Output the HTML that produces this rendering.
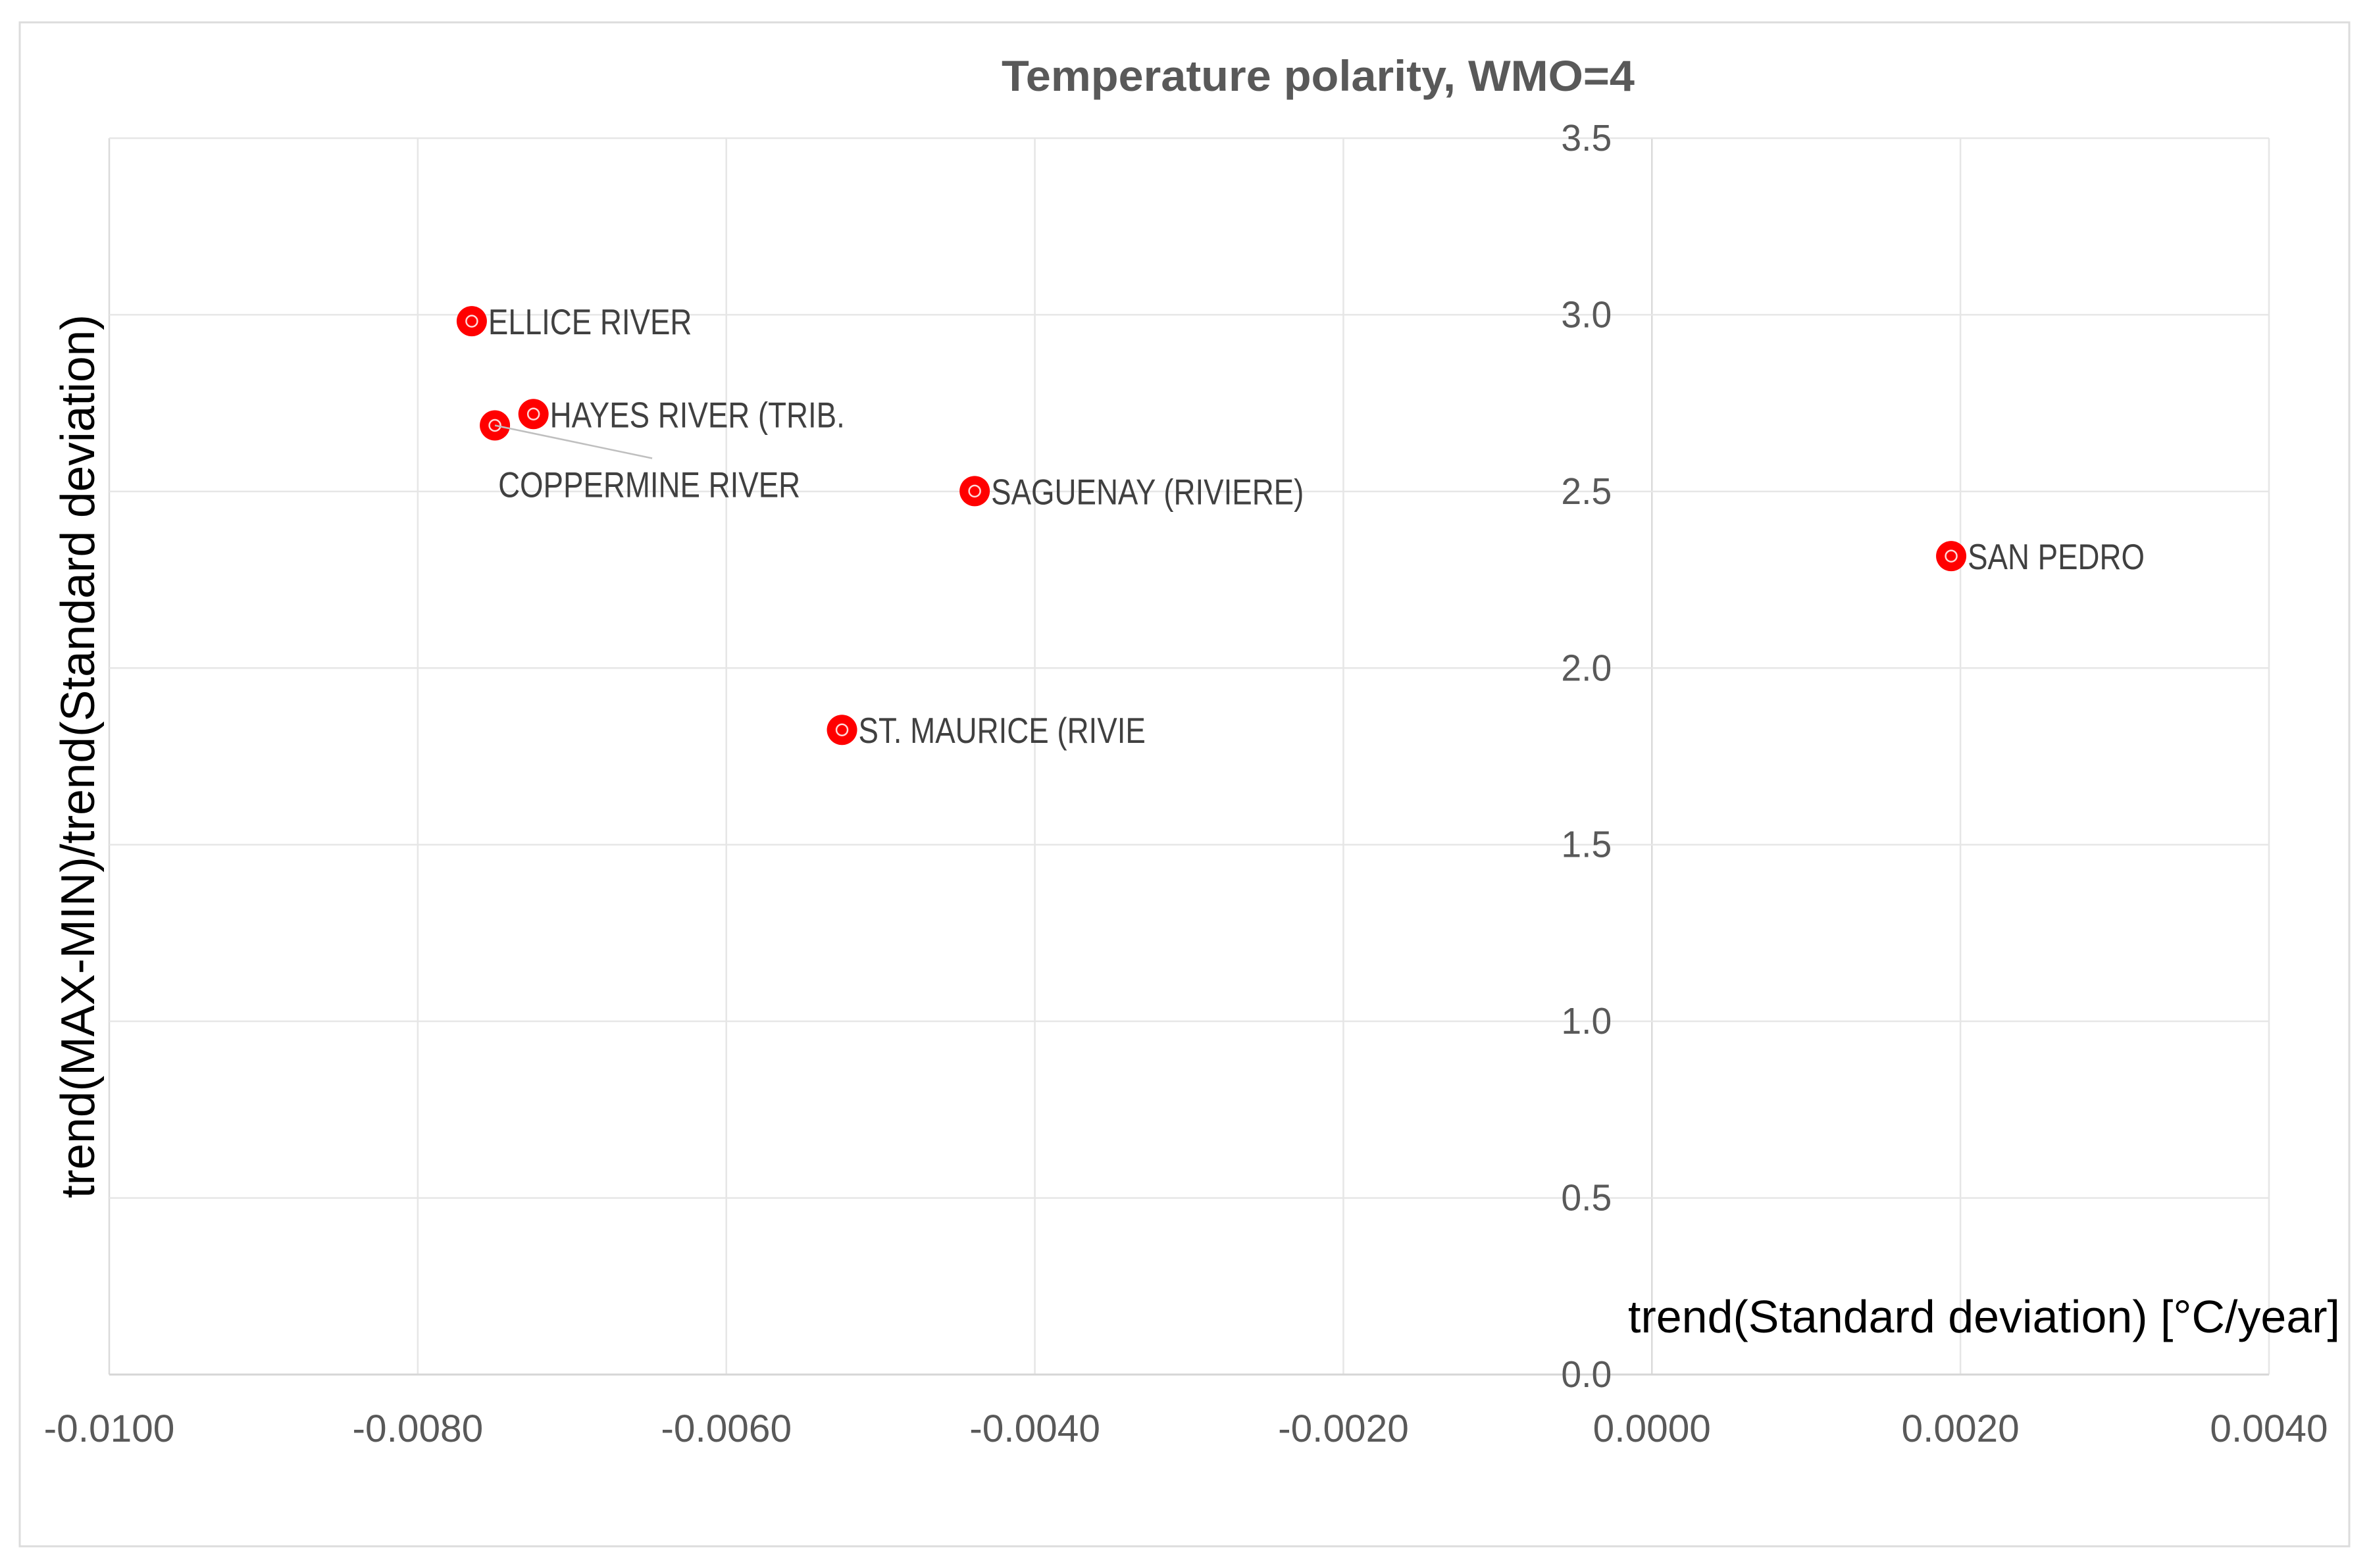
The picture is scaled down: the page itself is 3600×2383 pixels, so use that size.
<!DOCTYPE html>
<html lang="en">
<head>
<meta charset="utf-8">
<title>Temperature polarity, WMO=4</title>
<style>
html,body{margin:0;padding:0;background:#fff;}
svg{display:block;}
text{font-family:"Liberation Sans",sans-serif;}
</style>
</head>
<body>
<svg id="chart" xmlns="http://www.w3.org/2000/svg" width="3600" height="2383" viewBox="0 0 3600 2383">
  <rect x="0" y="0" width="3600" height="2383" fill="#ffffff"/>
  <rect x="30" y="34" width="3540" height="2316" fill="#ffffff" stroke="#dcdcdc" stroke-width="3"/>
  <g id="grid"></g>
  <g id="ticks"></g>
  <g id="marks"></g>
  <text x="1522" y="138" font-size="66" font-weight="bold" fill="#595959" textLength="962" lengthAdjust="spacingAndGlyphs">Temperature polarity, WMO=4</text>
  <text x="2474" y="2025" font-size="70" fill="#000000" textLength="1082" lengthAdjust="spacingAndGlyphs">trend(Standard deviation) [°C/year]</text>
  <text transform="translate(143,1821) rotate(-90)" font-size="72" fill="#000000" textLength="1343" lengthAdjust="spacingAndGlyphs">trend(MAX-MIN)/trend(Standard deviation)</text>
</svg>
<script>
const xTickValues = [-0.01, -0.008, -0.006, -0.004, -0.002, 0, 0.002, 0.004];
const xTickLabels = ["-0.0100", "-0.0080", "-0.0060", "-0.0040", "-0.0020", "0.0000", "0.0020", "0.0040"];
const yTickValues = [0, 0.5, 1, 1.5, 2, 2.5, 3, 3.5];
const yTickLabels = ["0.0", "0.5", "1.0", "1.5", "2.0", "2.5", "3.0", "3.5"];
const stationNames = ["ELLICE RIVER", "HAYES RIVER (TRIB.", "COPPERMINE RIVER", "SAGUENAY (RIVIERE)", "ST. MAURICE (RIVIE", "SAN PEDRO"];
const trendStd = [-0.00765, -0.00725, -0.0075, -0.00439, -0.00525, 0.00194];
const polarity = [2.982, 2.719, 2.687, 2.501, 1.825, 2.317];
const leaderStations = ["COPPERMINE RIVER"];

const NS = "http://www.w3.org/2000/svg";
const plot = { left: 166, right: 3448, top: 210, bottom: 2089 };
const xMin = -0.01, xMax = 0.004, yMin = 0, yMax = 3.5;
function xScale(v) { return plot.left + (v - xMin) / (xMax - xMin) * (plot.right - plot.left); }
function yScale(v) { return plot.bottom - (v - yMin) / (yMax - yMin) * (plot.bottom - plot.top); }
function make(tag, parent) {
  const el = document.createElementNS(NS, tag);
  parent.appendChild(el);
  return el;
}
function condense(el, factor) {
  const w = el.getComputedTextLength();
  el.setAttribute("textLength", (w * factor).toFixed(1));
  el.setAttribute("lengthAdjust", "spacingAndGlyphs");
}

const grid = document.getElementById("grid");
const ticks = document.getElementById("ticks");
const marks = document.getElementById("marks");

xTickValues.forEach(function (v, i) {
  const line = make("line", grid);
  
  
  line.setAttribute("x1", xScale(v));
  line.setAttribute("x2", xScale(v));
  line.setAttribute("y1", plot.top);
  line.setAttribute("y2", plot.bottom);
  line.setAttribute("stroke", v === 0 || i === 0 ? "#dadada" : "#e6e6e6");
  line.setAttribute("stroke-width", 2.5);

  const t = make("text", ticks);
  
  
  t.setAttribute("x", xScale(v));
  t.setAttribute("y", 2191);
  t.setAttribute("font-size", 58);
  t.setAttribute("fill", "#595959");
  t.setAttribute("text-anchor", "middle");
  t.textContent = xTickLabels[i];
  condense(t, 1.01);
});

yTickValues.forEach(function (v, i) {
  const line = make("line", grid);
  
  
  line.setAttribute("x1", plot.left);
  line.setAttribute("x2", plot.right);
  line.setAttribute("y1", yScale(v));
  line.setAttribute("y2", yScale(v));
  line.setAttribute("stroke", v === 0 ? "#d6d6d6" : "#e6e6e6");
  line.setAttribute("stroke-width", v === 0 ? 3 : 2.5);

  const t = make("text", ticks);
  
  
  t.setAttribute("x", xScale(0) - 61);
  t.setAttribute("y", yScale(v) + 19);
  t.setAttribute("font-size", 57);
  t.setAttribute("fill", "#595959");
  t.setAttribute("text-anchor", "end");
  t.textContent = yTickLabels[i];
  condense(t, 0.97);
});

stationNames.forEach(function (name, i) {
  const cx = xScale(trendStd[i]);
  const cy = yScale(polarity[i]);
  const hasLeader = leaderStations.indexOf(name) >= 0;

  const dot = make("circle", marks);
  
  
  dot.setAttribute("cx", cx);
  dot.setAttribute("cy", cy);
  dot.setAttribute("r", 23);
  dot.setAttribute("fill", "#ff0000");

  const ring = make("circle", marks);
  
  
  ring.setAttribute("cx", cx);
  ring.setAttribute("cy", cy);
  ring.setAttribute("r", 8.5);
  ring.setAttribute("fill", "none");
  ring.setAttribute("stroke", "#ffd8d8");
  ring.setAttribute("stroke-width", 2.5);

  if (hasLeader) {
    const lead = make("line", marks);
    
    
    lead.setAttribute("x1", cx);
    lead.setAttribute("y1", cy);
    lead.setAttribute("x2", cx + 239);
    lead.setAttribute("y2", cy + 50);
    lead.setAttribute("stroke", "#bfbfbf");
    lead.setAttribute("stroke-width", 2.5);
  }

  const label = make("text", marks);
  
  
  label.setAttribute("x", hasLeader ? cx + 5 : cx + 25);
  label.setAttribute("y", hasLeader ? cy + 109 : cy + 20);
  label.setAttribute("font-size", 55);
  label.setAttribute("fill", "#404040");
  label.textContent = name;
  condense(label, 0.83);
});
</script>
</body>
</html>
